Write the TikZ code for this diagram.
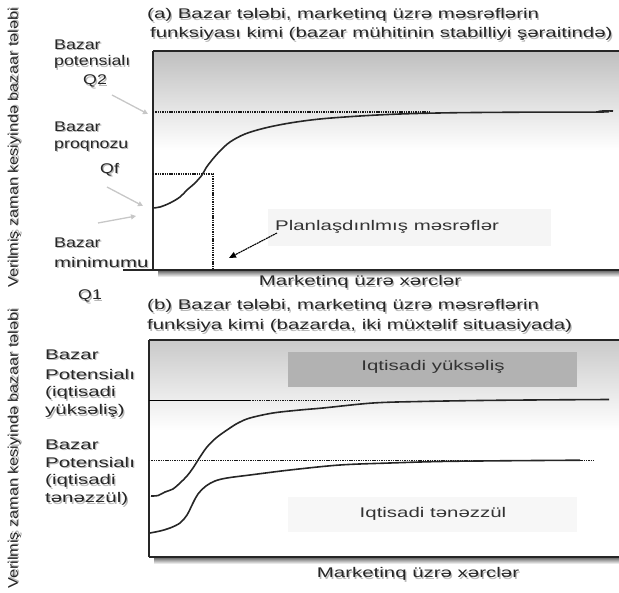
\documentclass[tikz,border=0pt]{standalone}
\usepackage{graphicx}
\usepackage{fontspec}
\setmainfont{Liberation Sans}[FakeStretch=1.46]
\newfontfamily\vfont{Liberation Sans}[FakeStretch=1.16]
\usetikzlibrary{arrows.meta}
% text with a soft grey drop shadow
\newcommand\sh[1]{\rlap{\hspace{1.3pt}\raisebox{-1.3pt}{\textcolor{black!28}{#1}}}#1}
% slightly narrower setting for the side labels of the upper chart
\newcommand\nar[1]{\scalebox{0.87}[1]{#1}}
\tikzset{
  lbl/.style={inner sep=0pt, font=\fontsize{14}{16}\selectfont, text=black!85},
  vlbl/.style={inner sep=0pt, font=\vfont\fontsize{14}{16}\selectfont, text=black!85, rotate=90},
  axis/.style={line width=1.1pt, black!85},
  potline/.style={line width=1.2pt, black!90, dash pattern=on 1.4pt off 0.9pt},
  curve/.style={line width=1.6pt, black!85, smooth, tension=0.55},
  pointer/.style={line width=1.3pt, black!22, -{Triangle[length=5pt,width=5pt]}},
  tag/.style={inner sep=0pt, font=\fontsize{14}{16}\selectfont, text=black!80},
}
\begin{document}
\begin{tikzpicture}[x=1pt,y=-1pt]
\useasboundingbox (0,0) rectangle (619,593);

% ---------------- panel (a) ----------------
\shade[top color=black!25, bottom color=white] (153,51) rectangle (619,150);
\fill[black!4] (268,209) rectangle (551,246);
\shade[top color=black!55, bottom color=white] (158,271) rectangle (619,277);
\draw[axis] (153,51) -- (619,51);
\draw[axis] (153,51) -- (153,270);
\draw[axis] (123,270) -- (619,270);

\draw[potline] (153,112) -- (430,112);
\draw[potline] (153,174) -- (213,174) -- (213,270);
\draw[curve] plot coordinates {(153,208) (160,207) (170,203) (180,197) (187,190)
  (195,183) (202,175) (206,168) (212,160) (220,151) (230,142) (245,134) (265,128)
  (290,123) (320,119) (360,116) (400,114) (450,112.8) (520,112.2) (602,112) (604,111) (613,111)};

\node[lbl, anchor=west] (ta1) at (147,16) {\sh{(a) Bazar tələbi, marketinq üzrə məsrəflərin}};
\node[lbl, anchor=west] (ta2) at (150,35) {\sh{funksiyası kimi (bazar mühitinin stabilliyi şəraitində)}};

\node[lbl, anchor=west] (ap1) at (54,45) {\nar{\sh{Bazar}}};
\node[lbl, anchor=west] (ap2) at (54,63) {\nar{\sh{potensialı}}};
\node[lbl, anchor=west] (ap3) at (83,82) {\nar{\sh{Q2}}};
\node[lbl, anchor=west] (af1) at (54,127) {\nar{\sh{Bazar}}};
\node[lbl, anchor=west] (af2) at (54,147) {\nar{\sh{proqnozu}}};
\node[lbl, anchor=west] (af3) at (100,170) {\nar{\sh{Qf}}};
\node[lbl, anchor=west] (am1) at (54,243) {\nar{\sh{Bazar}}};
\node[lbl, anchor=west] (am2) at (54,263) {\sh{minimumu}};
\node[lbl, anchor=west] (am3) at (78,297) {\nar{\sh{Q1}}};

\node[vlbl] (va) at (15,148) {\sh{Verilmiş zaman kesiyində bazaar tələbi}};
\node[lbl] (xa) at (360,283) {\sh{Marketinq üzrə xərclər}};
\node[tag, anchor=west] (pm) at (275,227) {Planlaşdınlmış məsrəflər};

\coordinate (q2tail) at (112,95);
\coordinate (q2tip) at (148,114);
\coordinate (qftail) at (107,187);
\coordinate (qftip) at (143,206);
\coordinate (q1tail) at (98,223);
\coordinate (q1tip) at (136,216);
\draw[pointer] (q2tail) -- (q2tip);
\draw[pointer] (qftail) -- (qftip);
\draw[pointer] (q1tail) -- (q1tip);

\coordinate (pmtip) at (229,258);
\draw[line width=1.1pt, dash pattern=on 2pt off 0.6pt, -{Triangle[length=7pt,width=6pt]}]
  (pm.west) ++(2,6) -- (pmtip);

% ---------------- panel (b) ----------------
\shade[top color=black!21, bottom color=white] (149,340) rectangle (619,430);
\fill[black!30] (288,352) rectangle (577,387);
\fill[black!3] (288,497) rectangle (577,532);
\shade[top color=black!55, bottom color=white] (154,558) rectangle (619,564);
\draw[axis] (149,340) -- (619,340);
\draw[axis] (149,340) -- (149,557);
\draw[axis] (149,557) -- (619,557);

\draw[line width=0.9pt] (149,400.5) -- (250,400.5);
\draw[potline] (250,400.5) -- (360,400.5);
\draw[potline] (149,460.5) -- (593,460.5);

\draw[curve] plot coordinates {(151,496) (158,495.5) (165,492) (173,489) (180,483)
  (187,476) (193,468) (200,457) (207,447) (216,438) (227,430) (238,423) (250,418)
  (273,413) (300,410) (323,408) (373,403) (420,401.5) (480,400.5) (530,400) (609,399.5)};
\draw[curve] plot coordinates {(150,533) (160,531) (170,528) (180,523) (187,515)
  (193,503) (198,494) (206,486) (215,481) (227,478) (250,475) (290,470) (340,465)
  (390,463) (440,461.5) (500,460.8) (580,460.2)};

\node[lbl, anchor=west] (tb1) at (147,307) {\sh{(b) Bazar tələbi, marketinq üzrə məsrəflərin}};
\node[lbl, anchor=west] (tb2) at (147,327) {\sh{funksiya kimi (bazarda, iki müxtəlif situasiyada)}};

\node[lbl, anchor=west] (bu1) at (45,355) {\sh{Bazar}};
\node[lbl, anchor=west] (bu2) at (45,375) {\sh{Potensialı}};
\node[lbl, anchor=west] (bu3) at (45,394) {\sh{(iqtisadi}};
\node[lbl, anchor=west] (bu4) at (45,412) {\sh{yüksəliş)}};
\node[lbl, anchor=west] (bd1) at (45,445) {\sh{Bazar}};
\node[lbl, anchor=west] (bd2) at (45,463) {\sh{Potensialı}};
\node[lbl, anchor=west] (bd3) at (45,482) {\sh{(iqtisadi}};
\node[lbl, anchor=west] (bd4) at (45,500) {\sh{tənəzzül)}};

\node[vlbl] (vb) at (15,449) {\sh{Verilmiş zaman kesiyində bazaar tələbi}};
\node[lbl] (xb) at (418,575) {\sh{Marketinq üzrə xərclər}};
\node[tag] (up) at (433,367) {Iqtisadi yüksəliş};
\node[tag] (down) at (433,514) {Iqtisadi tənəzzül};
\end{tikzpicture}
\end{document}
